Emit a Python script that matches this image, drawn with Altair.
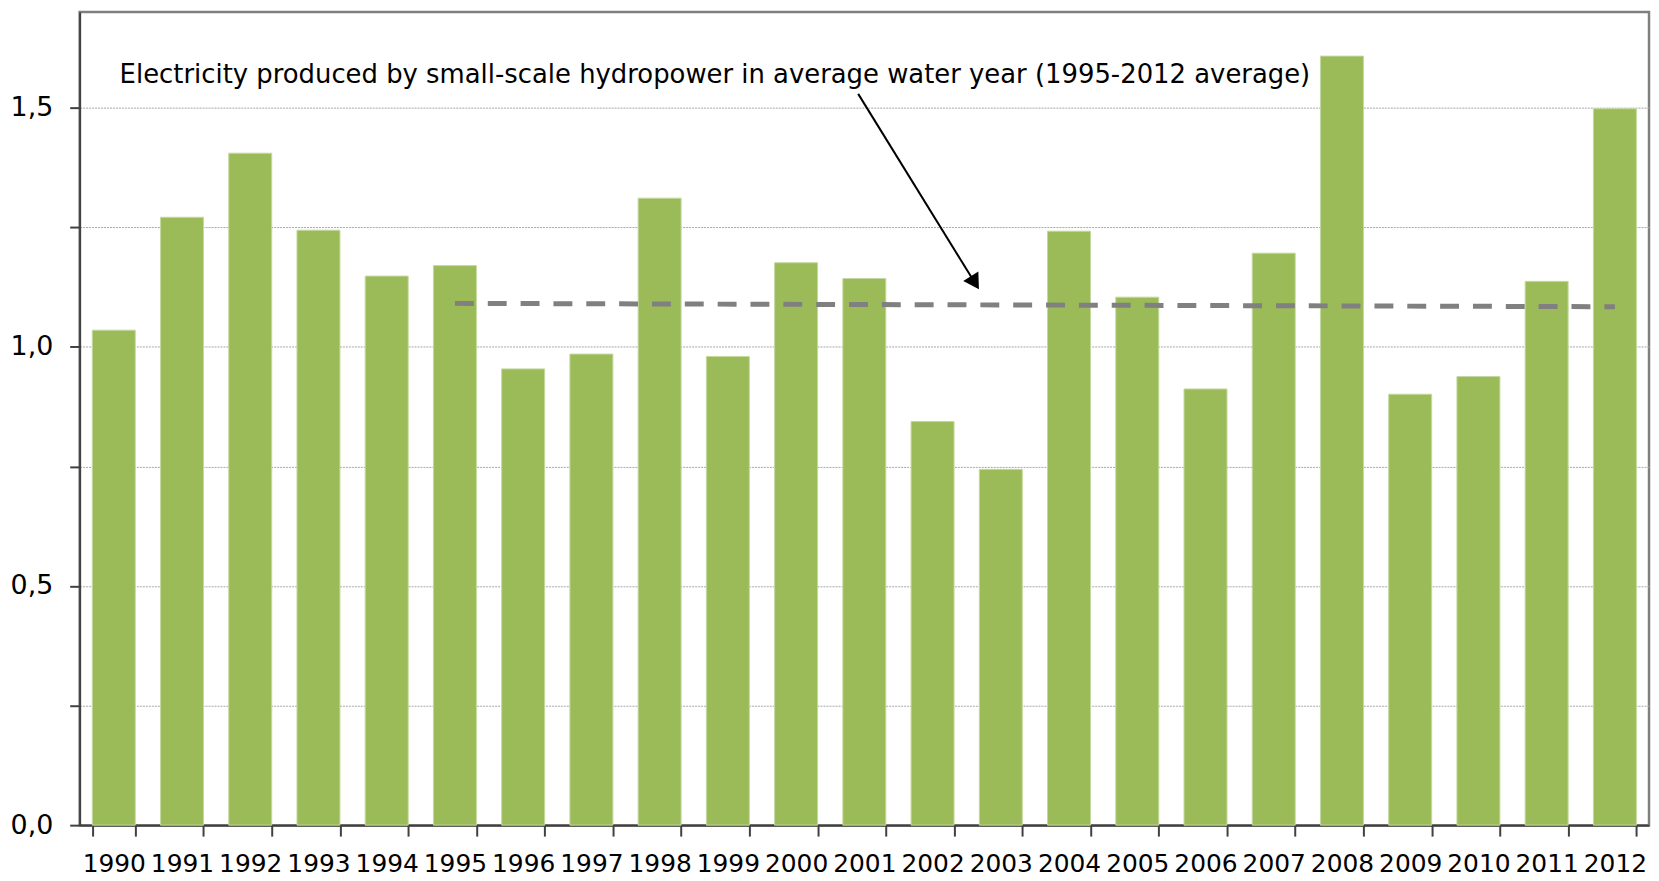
import altair as alt
import pandas as pd

# ---- data ----
years = [str(y) for y in range(1990, 2013)]
values = [1.035, 1.271, 1.405, 1.244, 1.148, 1.170, 0.954, 0.985, 1.311, 0.980,
          1.176, 1.143, 0.844, 0.744, 1.242, 1.104, 0.912, 1.196, 1.608, 0.901,
          0.938, 1.137, 1.498]
avg_years = ["1995", "2012"]
avg_values = [1.091, 1.084]
note_text = "Electricity produced by small-scale hydropower in average water year (1995-2012 average)"
y_ticks = [0, 0.25, 0.5, 0.75, 1.0, 1.25, 1.5]

FONT = "DejaVu Sans"
W, H = 1577, 817
N = len(years)

bars_df = pd.DataFrame({"year": years, "value": values})
avg_df = pd.DataFrame({"year": avg_years, "value": avg_values})

yscale = alt.Scale(domain=[0, 1.7], nice=False, zero=True)
yaxis = alt.Axis(
    title=None, values=y_ticks,
    labelExpr="(datum.value * 4) % 2 == 0 ? replace(format(datum.value, '.1f'), '.', ',') : ''",
    labelFont=FONT, labelFontSize=27, labelColor="#000000", labelPadding=17,
    tickSize=10, tickColor="#404040", tickWidth=2,
    domainColor="#404040", domainWidth=2,
    grid=True, gridColor="#a6a6a6", gridDash=[2, 1], gridWidth=1,
)
xscale = alt.Scale(paddingInner=0.37, paddingOuter=0.185)
xaxis = alt.Axis(
    title=None, labelAngle=0, tickBand="extent",
    labelFont=FONT, labelFontSize=25, labelColor="#000000", labelPadding=16,
    tickSize=11, tickColor="#404040", tickWidth=2,
    domainColor="#404040", domainWidth=2, grid=False,
)

bars = alt.Chart(bars_df).mark_bar(color="#9BBB59", stroke="#c5d9a0", strokeWidth=1).encode(
    x=alt.X("year:N", scale=xscale, axis=xaxis, sort=None),
    y=alt.Y("value:Q", scale=yscale, axis=yaxis),
)

avg_line = alt.Chart(avg_df).mark_line(
    color="#808080", strokeWidth=5, strokeDash=[19, 14], strokeCap="butt"
).encode(
    x=alt.X("year:N", sort=None),
    y=alt.Y("value:Q"),
)

base = alt.layer(bars, avg_line)

# ---- annotation (in band units along x, data units along y) ----
ann_scale = alt.Scale(domain=[0, N], nice=False, zero=False)
note_df = pd.DataFrame({"x": [9.31], "y": [1.5685], "label": [note_text]})
arrow_df = pd.DataFrame({"x": [11.41], "y": [1.529], "x2": [13.12], "y2": [1.134]})

note = alt.Chart(note_df).mark_text(
    font=FONT, fontSize=26, color="#000000", align="center", baseline="middle"
).encode(
    x=alt.X("x:Q", scale=ann_scale, axis=None),
    y=alt.Y("y:Q", scale=yscale),
    text="label:N",
)
arrow_shaft = alt.Chart(arrow_df).mark_rule(color="#000000", strokeWidth=2).encode(
    x=alt.X("x:Q", scale=ann_scale, axis=None),
    x2="x2:Q",
    y=alt.Y("y:Q", scale=yscale),
    y2="y2:Q",
)
arrow_head = alt.Chart(arrow_df).mark_point(
    shape="triangle-down", filled=True, color="#000000", size=320, angle=328, opacity=1
).encode(
    x=alt.X("x2:Q", scale=ann_scale, axis=None),
    y=alt.Y("y2:Q", scale=yscale),
)
ann = alt.layer(note, arrow_shaft, arrow_head)

chart = alt.layer(base, ann).resolve_scale(x="independent").properties(
    width=W, height=H,
    background="#ffffff",
    autosize=alt.AutoSizeParams(type="none"),
    padding={"left": 72, "top": 2, "right": 2, "bottom": 55},
).configure_view(stroke="#7f7f7f", strokeWidth=2.5)

chart.save("out.html", embed_options={"renderer": "svg", "actions": False})
